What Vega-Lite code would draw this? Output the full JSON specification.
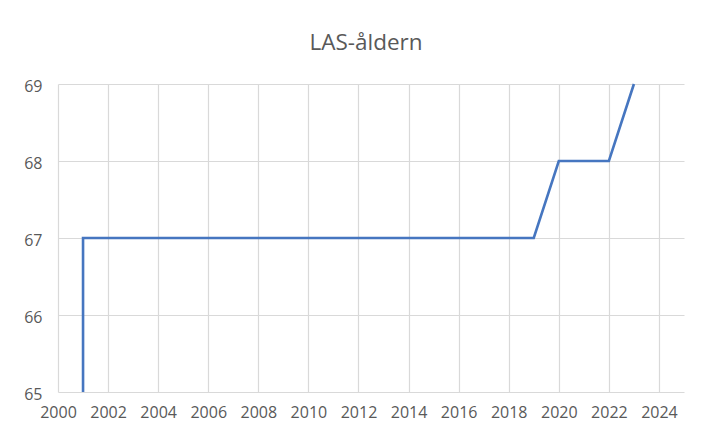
{
  "$schema": "https://vega.github.io/schema/vega-lite/v6.json",
  "autosize": "none",
  "width": 626,
  "height": 308,
  "padding": {"left": 58, "top": 84, "right": 29, "bottom": 40},
  "background": "white",
  "title": {
    "text": "LAS-åldern",
    "font": "Open Sans",
    "fontSize": 22.5,
    "fontWeight": "normal",
    "color": "#595959",
    "anchor": "middle",
    "frame": "group",
    "baseline": "alphabetic",
    "offset": 6,
    "dx": -5
  },
  "data": {
    "values": [
      {"year": 2001, "age": 65},
      {"year": 2001, "age": 67},
      {"year": 2019, "age": 67},
      {"year": 2020, "age": 68},
      {"year": 2022, "age": 68},
      {"year": 2023, "age": 69}
    ]
  },
  "mark": {"type": "line", "color": "#4676C0", "strokeWidth": 2.6, "clip": false},
  "encoding": {
    "x": {
      "field": "year",
      "type": "quantitative",
      "scale": {"domain": [2000, 2025], "nice": false, "zero": false},
      "axis": {
        "title": null,
        "values": [2000, 2002, 2004, 2006, 2008, 2010, 2012, 2014, 2016, 2018, 2020, 2022, 2024],
        "format": "d",
        "labelOverlap": false,
        "labelFlush": false,
        "grid": true,
        "gridColor": "#d9d9d9",
        "gridWidth": 1.2,
        "domain": false,
        "ticks": false,
        "labelPadding": 12,
        "labelFont": "Open Sans",
        "labelFontSize": 16,
        "labelColor": "#595959"
      }
    },
    "y": {
      "field": "age",
      "type": "quantitative",
      "scale": {"domain": [65, 69], "nice": false, "zero": false},
      "axis": {
        "title": null,
        "values": [65, 66, 67, 68, 69],
        "format": "d",
        "labelOverlap": false,
        "labelFlush": false,
        "grid": true,
        "gridColor": "#d9d9d9",
        "gridWidth": 1.2,
        "domain": false,
        "ticks": false,
        "labelPadding": 16,
        "labelFont": "Open Sans",
        "labelFontSize": 16,
        "labelColor": "#595959",
        "labelBaseline": "middle",
        "labelOffset": 2
      }
    }
  },
  "config": {"view": {"stroke": null}}
}
